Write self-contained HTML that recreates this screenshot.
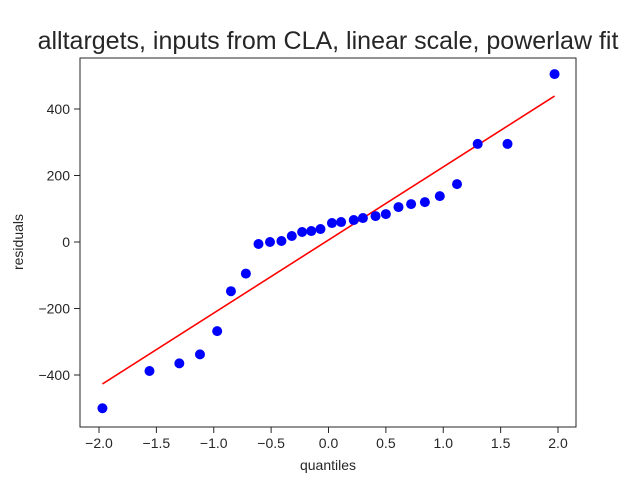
<!DOCTYPE html>
<html><head><meta charset="utf-8"><style>
body{margin:0;background:#fff;}
svg text{font-family:"Liberation Sans","DejaVu Sans",sans-serif;fill:#262626;}
</style></head><body>
<svg id="chart" width="640" height="480">
<text x="328" y="49" font-size="25" text-anchor="middle">alltargets, inputs from CLA, linear scale, powerlaw fit</text>
<rect x="80" y="58" width="496" height="369" fill="none" stroke="#262626" stroke-width="1"/>
<g id="xt"></g><g id="yt"></g>
<line id="fit" stroke="red" stroke-width="1.6"/>
<g id="pts"></g>
<text x="328" y="470" font-size="14" text-anchor="middle">quantiles</text>
<text transform="translate(23,242) rotate(-90)" font-size="14" text-anchor="middle">residuals</text>
</svg>
<script>
const quantiles=[-1.97,-1.56,-1.30,-1.12,-0.97,-0.85,-0.72,-0.61,-0.51,-0.41,-0.32,-0.23,-0.15,-0.07,0.03,0.11,0.22,0.30,0.41,0.50,0.61,0.72,0.84,0.97,1.12,1.30,1.56,1.97];
const residuals=[-500,-388,-365,-338,-268,-148,-95,-6,0,3,18,30,33,39,57,60,66,72,78,84,105,114,120,138,174,295,295,505];
const fitX=[-1.97,1.97];
const fitY=[-427,439];
const xTicks=[-2.0,-1.5,-1.0,-0.5,0.0,0.5,1.0,1.5,2.0];
const yTicks=[-400,-200,0,200,400];
const NS="http://www.w3.org/2000/svg";
function sx(v){return 328.5+v*114.75;}
function sy(v){return 242-v*0.3325;}
function fmt(v){return (v<0?"\u2212":"")+Math.abs(v).toFixed(1);}
const xt=document.getElementById('xt');
xTicks.forEach(t=>{
 const l=document.createElementNS(NS,'line');
 l.setAttribute('x1',sx(t));l.setAttribute('x2',sx(t));l.setAttribute('y1',427);l.setAttribute('y2',433);l.setAttribute('stroke','#262626');
 
 
 xt.appendChild(l);
 const tx=document.createElementNS(NS,'text');
 tx.setAttribute('x',sx(t));tx.setAttribute('y',448);tx.setAttribute('font-size','14');tx.setAttribute('text-anchor','middle');
 tx.textContent=fmt(t);
 
 
 xt.appendChild(tx);
});
const yt=document.getElementById('yt');
yTicks.forEach(t=>{
 const l=document.createElementNS(NS,'line');
 l.setAttribute('x1',74);l.setAttribute('x2',80);l.setAttribute('y1',sy(t));l.setAttribute('y2',sy(t));l.setAttribute('stroke','#262626');
 
 
 yt.appendChild(l);
 const tx=document.createElementNS(NS,'text');
 tx.setAttribute('x',70);tx.setAttribute('y',sy(t)+5);tx.setAttribute('font-size','14');tx.setAttribute('text-anchor','end');
 tx.textContent=(t<0?"\u2212":"")+Math.abs(t);
 
 
 yt.appendChild(tx);
});
const f=document.getElementById('fit');
f.setAttribute('x1',sx(fitX[0]));f.setAttribute('y1',sy(fitY[0]));f.setAttribute('x2',sx(fitX[1]));f.setAttribute('y2',sy(fitY[1]));
const pts=document.getElementById('pts');
quantiles.forEach((q,i)=>{
 const c=document.createElementNS(NS,'circle');
 c.setAttribute('cx',sx(q));c.setAttribute('cy',sy(residuals[i]));c.setAttribute('r',5);c.setAttribute('fill','blue');
 
 
 pts.appendChild(c);
});
</script>
</body></html>
